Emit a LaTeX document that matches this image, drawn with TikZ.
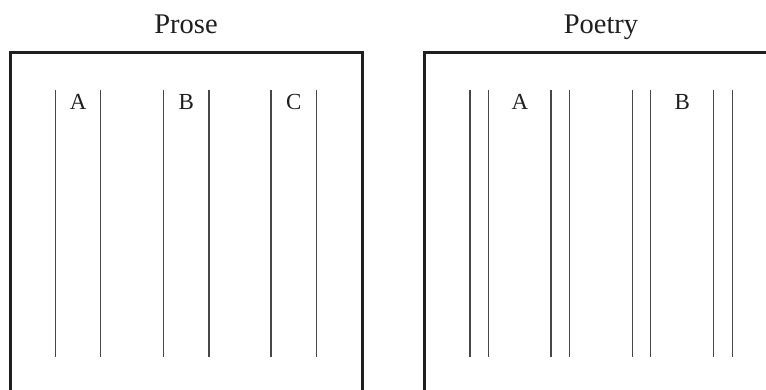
\documentclass[tikz,border=0pt]{standalone}
\usepackage{fontspec}
\setmainfont{Liberation Serif}
\begin{document}
\begin{tikzpicture}[x=1pt,y=-1pt,
  frame/.style={line width=3pt, draw=black!88},
  rule/.style={line width=1.1pt, draw=black!72},
  title/.style={font=\fontsize{28.5}{32}\selectfont, anchor=base, inner sep=0pt, text=black!88},
  letter/.style={font=\fontsize{23}{26}\selectfont, anchor=base, inner sep=0pt, text=black!88}]
\useasboundingbox (0,0) rectangle (766,390);
\clip (0,0) rectangle (766,390);
% frames (open beyond the picture edge)
\draw[frame] (10.5,400) -- (10.5,53) -- (362,53) -- (362,400);
\draw[frame] (424.7,400) -- (424.7,53) -- (780,53);
% titles
\node[title] (prose) at (186,34) {Prose};
\node[title] (poetry) at (601,34) {Poetry};
% prose columns
\foreach \x in {55.7,100.7,163.3,209,271,316.7}
  \draw[rule] (\x,90) -- (\x,357);
\node[letter] (pa) at (78.2,110) {A};
\node[letter] (pb) at (186.2,110) {B};
\node[letter] (pc) at (293.9,110) {C};
% poetry columns
\foreach \x in {470,488.7,551,569.7,632.3,650.7,713.7,732.3}
  \draw[rule] (\x,90) -- (\x,357);
\node[letter] (qa) at (519.9,110) {A};
\node[letter] (qb) at (682.2,110) {B};
\end{tikzpicture}
\end{document}
